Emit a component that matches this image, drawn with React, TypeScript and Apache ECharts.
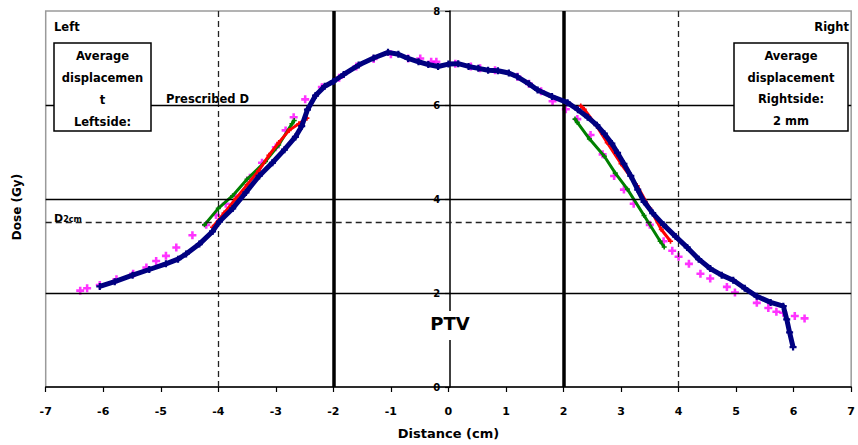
import React, { useEffect, useRef } from "react";
import * as echarts from "echarts";

const xTicks = [-7, -6, -5, -4, -3, -2, -1, 0, 1, 2, 3, 4, 5, 6, 7];
const yTicks = [0, 2, 4, 6, 8];

const navyData: number[][] = [
  [-6.06, 2.14], [-5.8, 2.24], [-5.49, 2.38], [-5.2, 2.5], [-4.91, 2.62], [-4.7, 2.72],
  [-4.56, 2.83], [-4.33, 3.04], [-4.1, 3.31], [-3.98, 3.52], [-3.75, 3.8], [-3.52, 4.14],
  [-3.29, 4.49], [-3.06, 4.77], [-2.85, 5.05], [-2.66, 5.32], [-2.55, 5.55], [-2.45, 5.9],
  [-2.31, 6.2], [-2.15, 6.4], [-2.0, 6.5], [-1.82, 6.65], [-1.56, 6.85], [-1.3, 7.0],
  [-1.05, 7.12], [-0.87, 7.08], [-0.7, 6.99], [-0.52, 6.92], [-0.35, 6.86], [-0.18, 6.82],
  [0.0, 6.87], [0.17, 6.88], [0.35, 6.82], [0.52, 6.78], [0.69, 6.74], [0.86, 6.73],
  [1.05, 6.68], [1.2, 6.6], [1.4, 6.45], [1.55, 6.32], [1.8, 6.18], [2.07, 6.05],
  [2.25, 5.9], [2.42, 5.74], [2.58, 5.57], [2.71, 5.39], [2.84, 5.18], [2.94, 4.98],
  [3.05, 4.75], [3.17, 4.49], [3.29, 4.2], [3.4, 3.94], [3.55, 3.7], [3.74, 3.45],
  [3.95, 3.2], [4.15, 2.97], [4.35, 2.72], [4.55, 2.52], [4.75, 2.38], [4.95, 2.27],
  [5.15, 2.1], [5.36, 1.93], [5.6, 1.8], [5.82, 1.72], [5.88, 1.44], [5.93, 1.16], [5.99, 0.85]
];

const magentaData: number[][] = [
  [-6.4, 2.05], [-6.28, 2.1], [-6.06, 2.17], [-5.77, 2.29], [-5.48, 2.41], [-5.25, 2.54],
  [-5.08, 2.68], [-4.91, 2.79], [-4.73, 2.97], [-4.45, 3.23], [-4.21, 3.45], [-4.04, 3.66],
  [-3.87, 3.9], [-3.7, 4.07], [-3.45, 4.45], [-3.24, 4.77], [-3.0, 5.1], [-2.83, 5.46],
  [-2.69, 5.74], [-2.49, 6.12], [-2.2, 6.38], [-1.9, 6.58], [-1.6, 6.82], [-1.3, 6.98],
  [-1.0, 7.08], [-0.7, 6.99], [-0.49, 6.99], [-0.3, 6.92], [-0.21, 6.92], [0.12, 6.88],
  [0.39, 6.82], [0.55, 6.78], [0.81, 6.74], [1.2, 6.6], [1.4, 6.45], [1.61, 6.29],
  [1.81, 6.08], [2.04, 5.91], [2.24, 5.7], [2.47, 5.36], [2.68, 4.95], [2.88, 4.49],
  [3.05, 4.2], [3.22, 3.9], [3.5, 3.45], [3.74, 3.1], [3.89, 2.9], [4.0, 2.77],
  [4.18, 2.62], [4.38, 2.41], [4.55, 2.31], [4.84, 2.13], [4.98, 2.01], [5.36, 1.79],
  [5.56, 1.68], [5.7, 1.6], [5.82, 1.58], [6.02, 1.51], [6.19, 1.46]
];

const redLeft: number[][] = [
  [-4.1, 3.4], [-3.9, 3.7], [-3.7, 4.0], [-3.5, 4.3], [-3.3, 4.6], [-3.12, 4.93],
  [-2.95, 5.2], [-2.77, 5.46], [-2.6, 5.6], [-2.46, 5.72]
];
const redRight: number[][] = [
  [2.3, 5.98], [2.36, 5.91], [2.55, 5.6], [2.76, 5.2], [3.0, 4.75], [3.28, 4.28],
  [3.5, 3.8], [3.7, 3.35], [3.86, 3.1]
];
const greenLeft: number[][] = [
  [-4.24, 3.45], [-4.0, 3.8], [-3.75, 4.07], [-3.5, 4.42], [-3.18, 4.8], [-2.95, 5.15],
  [-2.72, 5.6], [-2.68, 5.67]
];
const greenRight: number[][] = [
  [2.2, 5.7], [2.24, 5.63], [2.45, 5.28], [2.71, 4.91], [2.9, 4.55], [3.11, 4.21],
  [3.4, 3.65], [3.68, 3.1], [3.75, 2.98]
];

const thickVLines = [-2, 2];
const dashedVLines = [-4, 4];
const solidHLines = [2, 4, 6];
const dashedHLines = [3.5];

const plus = "path://M3.4,0 L6.6,0 L6.6,3.4 L10,3.4 L10,6.6 L6.6,6.6 L6.6,10 L3.4,10 L3.4,6.6 L0,6.6 L0,3.4 L3.4,3.4 Z";
const FONT = "DejaVu Sans";

const GRID_LEFT = 45.7;
const GRID_RIGHT = 3.5;
const W = 858;

export default function App() {
  const ref = useRef<HTMLDivElement>(null);
  useEffect(() => {
    if (!ref.current) return;
    const chart = echarts.init(ref.current, null, { renderer: "svg" });
    const txt = (x: number, y: number, text: string, extra: any = {}, more: any = {}) => ({
      type: "text",
      x,
      y,
      z: 110,
      ...more,
      style: {
        text,
        fill: "#000",
        font: `bold 11.5px "${FONT}"`,
        textAlign: "center",
        textVerticalAlign: "middle",
        ...extra,
      },
    });
    const lineSeries = (data: number[][], color: string, width: number, size: number, z: number) => ({
      type: "line",
      data,
      showSymbol: true,
      symbol: plus,
      symbolSize: size,
      itemStyle: { color },
      lineStyle: { color, width },
      z,
    });
    const plotW = W - GRID_LEFT - GRID_RIGHT;
    const zeroOffset = -(plotW / 2);
    chart.setOption({
      animation: false,
      grid: {
        left: GRID_LEFT,
        right: GRID_RIGHT,
        top: 11,
        bottom: 49,
        show: true,
        borderColor: "#9a9a9a",
        borderWidth: 1.5,
      },
      xAxis: {
        type: "value",
        min: -7,
        max: 7,
        interval: 1,
        name: "Distance (cm)",
        nameLocation: "middle",
        nameGap: 40,
        nameTextStyle: { color: "#000", fontFamily: FONT, fontWeight: "bold", fontSize: 13 },
        axisLine: { onZero: false, lineStyle: { color: "#000", width: 1.5 } },
        axisTick: { show: true, length: 5, lineStyle: { color: "#000", width: 1.2 } },
        axisLabel: {
          color: "#000",
          fontFamily: FONT,
          fontWeight: "bold",
          fontSize: 11,
          margin: 19,
          formatter: (v: number) => (xTicks.includes(v) ? String(v) : ""),
        },
        splitLine: { show: false },
      },
      yAxis: {
        type: "value",
        min: 0,
        max: 8,
        interval: 2,
        offset: zeroOffset,
        axisLine: { show: true, onZero: false, lineStyle: { color: "#000", width: 1.5 } },
        axisTick: { show: true, length: 5, lineStyle: { color: "#000", width: 1.2 } },
        axisLabel: {
          color: "#000",
          fontFamily: FONT,
          fontWeight: "bold",
          fontSize: 10,
          margin: 10,
          formatter: (v: number) => (yTicks.includes(v) ? String(v) : ""),
        },
        splitLine: { show: false },
      },
      series: [
        {
          type: "line",
          data: [],
          silent: true,
          z: 1,
          markLine: {
            silent: true,
            symbol: "none",
            label: { show: false },
            data: [
              ...thickVLines.map((v) => ({ xAxis: v, lineStyle: { color: "#000", width: 3.5, type: "solid" } })),
              ...dashedVLines.map((v) => ({ xAxis: v, lineStyle: { color: "#222", width: 1.3, type: [6, 4] } })),
              ...solidHLines.map((v) => ({ yAxis: v, lineStyle: { color: "#000", width: 1.3, type: "solid" } })),
              ...dashedHLines.map((v) => ({ yAxis: v, lineStyle: { color: "#222", width: 1.3, type: [6, 4] } })),
            ],
          },
        },
        {
          type: "scatter",
          data: magentaData,
          symbol: plus,
          symbolSize: 8,
          itemStyle: { color: "#ff00ff" },
          z: 3,
        },
        lineSeries(greenLeft, "#008000", 3, 5, 4),
        lineSeries(greenRight, "#008000", 3, 5, 4),
        lineSeries(redLeft, "#ff0000", 3, 5, 5),
        lineSeries(redRight, "#ff0000", 3, 5, 5),
        lineSeries(navyData, "#000080", 5, 7, 6),
      ],
      graphic: [
        { type: "rect", z: 100, shape: { x: 54, y: 43, width: 97, height: 88 }, style: { fill: "#fff", stroke: "#000", lineWidth: 1.5 } },
        { type: "rect", z: 100, shape: { x: 734, y: 43, width: 114, height: 88 }, style: { fill: "#fff", stroke: "#000", lineWidth: 1.5 } },
        txt(102.5, 56, "Average"),
        txt(102.5, 78, "displacemen"),
        txt(102.5, 100, "t"),
        txt(102.5, 122, "Leftside:"),
        txt(791, 56, "Average"),
        txt(791, 78, "displacement"),
        txt(791, 99, "Rightside:"),
        txt(791, 121, "2 mm"),
        txt(54, 27, "Left", { textAlign: "left" }),
        txt(849, 27, "Right", { textAlign: "right" }),
        txt(166, 99, "Prescribed D", { textAlign: "left" }),
        {
          type: "text",
          x: 54,
          y: 218,
          z: 110,
          style: {
            text: "{a|D}{b|2cm}",
            textAlign: "left",
            textVerticalAlign: "middle",
            rich: {
              a: { fontFamily: FONT, fontSize: 11, fontWeight: "bold", fill: "#000", color: "#000" },
              b: { fontFamily: FONT, fontSize: 8, fontWeight: "bold", fill: "#000", color: "#000", padding: [3, 0, 0, 0] },
            },
          },
        },
        { type: "rect", z: 100, shape: { x: 425, y: 311, width: 50, height: 29 }, style: { fill: "#fff" } },
        txt(450, 323, "PTV", { font: `bold 18px "${FONT}"` }),
        txt(17, 207, "Dose (Gy)", { font: `bold 12px "${FONT}"` }, { rotation: Math.PI / 2 }),
      ],
    });
    return () => chart.dispose();
  }, []);
  return (
    <div
      ref={ref}
      style={{ position: "fixed", left: 0, top: 0, width: 858, height: 445, background: "#fff" }}
    />
  );
}
